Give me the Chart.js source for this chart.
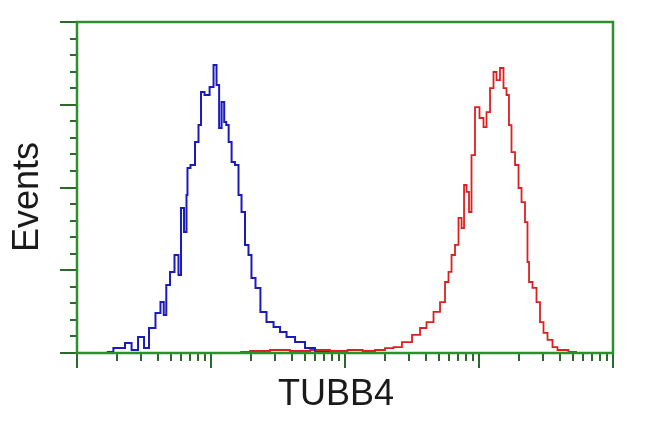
<!DOCTYPE html>
<html>
<head>
<meta charset="utf-8">
<script src="https://cdn.jsdelivr.net/npm/chart.js@4"></script>
<style>
  html, body { margin: 0; padding: 0; background: #fff; }
</style>
</head>
<body>
<canvas id="histo" width="650" height="432"></canvas>
<script>
// control sample (blue) - fluorescence value / event count
var blueX = [1.67, 2.09, 2.49, 2.62, 3.11, 3.22, 3.69, 4.02, 4.38, 4.5, 4.78, 5.12, 5.57, 5.87, 6.08, 6.51, 6.62, 6.73, 7.34, 7.86, 8.28, 8.57, 9.34, 10.2, 10.7, 11.3, 11.7, 12.3, 12.8, 13.2, 13.9, 14.6, 15.6, 16.5, 17.3, 18.6, 19.5, 20.6, 22.4, 24.4, 27.6, 31.1, 34.5, 38.9, 46.2, 54.8, 65.1, 87.1];
var blueY = [0.6, 3.0, 6.0, 1.8, 9.7, 3.0, 15.1, 24.2, 30.8, 23.0, 41.1, 49.0, 59.2, 47.1, 87.6, 73.1, 95.5, 111.8, 113.6, 127.5, 137.7, 157.7, 155.9, 160.7, 174.0, 161.9, 135.9, 151.7, 139.6, 137.7, 127.5, 115.4, 113.6, 95.5, 85.2, 65.3, 59.2, 45.3, 39.3, 24.8, 18.7, 15.7, 12.7, 9.7, 6.6, 3.0, 0.6, 0];

// TUBB4 stained sample (red)
var redX = [16.5, 23.2, 32.7, 46.2, 65.1, 91.8, 119, 154, 182, 217, 244, 290, 345, 382, 431, 486, 539, 577, 608, 640, 685, 722, 760, 787, 828, 857, 902, 966, 1053, 1109, 1168, 1251, 1316, 1386, 1485, 1563, 1645, 1702, 1795, 1923, 2024, 2130, 2280, 2321, 2404, 2618, 2756, 2951, 3110, 3388, 3690, 4019, 5383];
var redY = [0.6, 1.2, 1.8, 1.2, 1.8, 1.2, 1.8, 1.2, 1.8, 3.0, 3.6, 6.6, 10.9, 15.1, 18.7, 24.8, 30.8, 42.9, 49.0, 59.2, 65.3, 81.6, 75.5, 101.5, 97.3, 85.2, 119.6, 148.6, 142.0, 136.5, 145.6, 160.1, 169.8, 164.9, 172.2, 160.1, 155.9, 137.7, 121.4, 113.6, 99.7, 91.2, 79.1, 55.0, 42.9, 39.3, 30.8, 18.7, 12.1, 7.9, 3.6, 1.8, 0.6];

// axis ticks (no labels in the original)
var xDecades = [1, 10, 100, 1000, 10000];
var xMinorSteps = [2, 3, 4, 5, 6, 7, 8, 9];
var yMajorTicks = [0, 50, 100, 150, 200];
var yMinorSteps = [10, 20, 30, 40];

var xTitle = 'TUBB4';
var yTitle = 'Events';

function toPoints(xs, ys) {
    var pts = [];
    for (var i = 0; i < xs.length; i++) pts.push({x: xs[i], y: ys[i]});
    return pts;
}

var green = '#2f8f2f';
var tickColor = '#2a6a2a';

// frame, log / linear tick marks and axis titles
var framePlugin = {
    id: 'frame',
    afterDraw: function(chart) {
        var ctx = chart.ctx;
        var a = chart.chartArea;
        var xs = chart.scales.x, ys = chart.scales.y;

        function xTick(v, len) {
            var px = Math.round(xs.getPixelForValue(v));
            ctx.beginPath();
            ctx.moveTo(px, a.bottom);
            ctx.lineTo(px, a.bottom + len);
            ctx.stroke();
        }
        function yTick(v, len) {
            var py = Math.round(ys.getPixelForValue(v));
            ctx.beginPath();
            ctx.moveTo(a.left, py);
            ctx.lineTo(a.left - len, py);
            ctx.stroke();
        }

        ctx.save();
        ctx.strokeStyle = tickColor;
        ctx.lineWidth = 2;
        xDecades.forEach(function(d, i) {
            xTick(d, 15);
            if (i < xDecades.length - 1) {
                xMinorSteps.forEach(function(m) { xTick(d * m, 8); });
            }
        });
        yMajorTicks.forEach(function(v, i) {
            yTick(v, 17);
            if (i < yMajorTicks.length - 1) {
                yMinorSteps.forEach(function(m) { yTick(v + m, 7); });
            }
        });

        ctx.strokeStyle = green;
        ctx.lineWidth = 2.5;
        ctx.strokeRect(a.left, a.top, a.right - a.left, a.bottom - a.top);

        ctx.fillStyle = '#1a1a1a';
        ctx.font = '36px "Liberation Sans", Arial, sans-serif';
        ctx.textAlign = 'center';
        ctx.textBaseline = 'middle';
        ctx.fillText(xTitle, 336, 395);
        ctx.translate(28, 197);
        ctx.rotate(-Math.PI / 2);
        ctx.fillText(yTitle, 0, 0);
        ctx.restore();
    }
};

var ctx = document.getElementById('histo').getContext('2d');
var chart = new Chart(ctx, {
    type: 'line',
    data: {
        datasets: [{
            data: toPoints(blueX, blueY),
            borderColor: '#1a1ac0',
            borderWidth: 2,
            pointRadius: 0,
            stepped: 'middle'
        }, {
            data: toPoints(redX, redY),
            borderColor: '#dc2020',
            borderWidth: 1.8,
            pointRadius: 0,
            stepped: 'middle'
        }]
    },
    options: {
        responsive: false,
        animation: false,
        layout: { padding: { left: 77, right: 37, top: 22, bottom: 79 } },
        plugins: { legend: { display: false }, tooltip: { enabled: false } },
        scales: {
            x: {
                type: 'logarithmic',
                min: xDecades[0],
                max: xDecades[xDecades.length - 1],
                display: false
            },
            y: {
                type: 'linear',
                min: yMajorTicks[0],
                max: yMajorTicks[yMajorTicks.length - 1],
                display: false
            }
        }
    },
    plugins: [framePlugin]
});
</script>
</body>
</html>
